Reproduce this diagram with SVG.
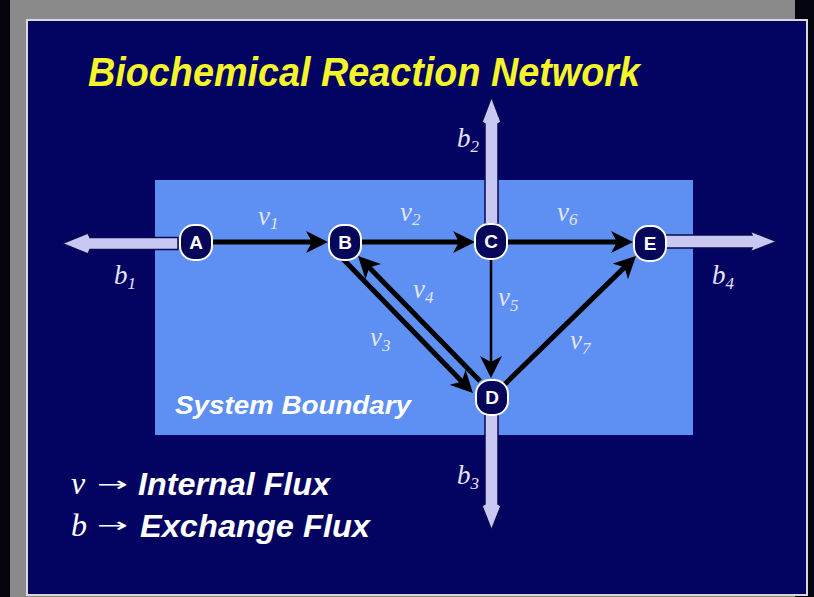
<svg xmlns="http://www.w3.org/2000/svg" width="814" height="597" viewBox="0 0 814 597">
<style>
.node rect{fill:#06065a;stroke:#ffffff;stroke-width:2}
.node text{font-family:"Liberation Sans",Arial,sans-serif;font-weight:bold;font-size:19px;fill:#ffffff;text-anchor:middle}
.edge{stroke:#000000;stroke-width:5;fill:none;marker-end:url(#ah)}
.thin{stroke-width:2.5}
.xch{fill:#c8c8f2;stroke:#0a0a50;stroke-width:1.5}
.lbl{font-family:"Liberation Serif","Times New Roman",serif;font-style:italic;font-size:27px;fill:#e4e4ff}
.sub{font-size:17px}
.bi{font-family:"Liberation Sans",Arial,sans-serif;font-weight:bold;font-style:italic}
</style>
<defs>
<marker id="ah" markerUnits="userSpaceOnUse" markerWidth="22" markerHeight="22" refX="14" refY="11" orient="auto">
<path d="M0,0 L22,11 L0,22 L6,11 Z" fill="#000000"/>
</marker>
</defs>
<rect x="0" y="0" width="814" height="597" fill="#05050f"/>
<rect x="10" y="0" width="785" height="597" fill="#8a8a8a"/>
<rect x="27" y="20" width="780" height="575" fill="#030362" stroke="#d8d8d8" stroke-width="2"/>
<text x="88" y="86" class="bi" font-size="40" fill="#f5f52a" textLength="552" lengthAdjust="spacingAndGlyphs">Biochemical Reaction Network</text>
<rect id="boundary" x="155" y="180" width="538" height="255" fill="#5e8ff2"/>
<text x="175" y="414" class="bi" font-size="25" fill="#ffffff" textLength="236" lengthAdjust="spacingAndGlyphs">System Boundary</text>
<g id="connectors">
<path class="xch" d="M178,237.5 L90,237.5 L88,233 L62,243.5 L88,254 L90,249.5 L178,249.5 Z"/>
<path class="xch" d="M665,235 L752,235 L750,231 L777,241.5 L750,252 L752,248 L665,248 Z"/>
<path class="xch" d="M485,224 L485,124 L482,122 L491.5,97 L501,122 L498,124 L498,224 Z"/>
<path class="xch" d="M485,414 L485,504 L482,506 L491.5,530 L501,506 L498,504 L498,414 Z"/>
<line class="edge" x1="213" y1="242" x2="320" y2="242"/>
<line class="edge" x1="362" y1="242" x2="467" y2="242"/>
<line class="edge" x1="508" y1="242" x2="625" y2="242"/>
<line class="edge thin" x1="491" y1="259" x2="491" y2="370"/>
<line class="edge" x1="342" y1="258" x2="467.4" y2="387.3"/>
<line class="edge" x1="480" y1="381" x2="363.6" y2="261.7"/>
<line class="edge" x1="503" y1="386" x2="630.3" y2="261.6"/>
</g>
<g id="node-A" class="node"><rect x="180" y="225" width="32" height="35" rx="14"/><text x="196" y="249">A</text></g>
<g id="node-B" class="node"><rect x="329" y="225" width="32" height="35" rx="14"/><text x="345" y="249">B</text></g>
<g id="node-C" class="node"><rect x="475" y="224" width="32" height="35" rx="14"/><text x="491" y="248">C</text></g>
<g id="node-E" class="node"><rect x="634" y="226" width="32" height="35" rx="14"/><text x="650" y="250">E</text></g>
<g id="node-D" class="node"><rect x="476" y="380" width="32" height="35" rx="14"/><text x="492" y="404">D</text></g>
<g id="labels">
<text class="lbl" x="258" y="225">v<tspan class="sub" dy="4">1</tspan></text>
<text class="lbl" x="400" y="221">v<tspan class="sub" dy="4">2</tspan></text>
<text class="lbl" x="557" y="221">v<tspan class="sub" dy="4">6</tspan></text>
<text class="lbl" x="413" y="298">v<tspan class="sub" dy="5">4</tspan></text>
<text class="lbl" x="498" y="306">v<tspan class="sub" dy="5">5</tspan></text>
<text class="lbl" x="370" y="346">v<tspan class="sub" dy="5">3</tspan></text>
<text class="lbl" x="570" y="349">v<tspan class="sub" dy="5">7</tspan></text>
<text class="lbl" x="114" y="284">b<tspan class="sub" dy="5">1</tspan></text>
<text class="lbl" x="457" y="147">b<tspan class="sub" dy="5">2</tspan></text>
<text class="lbl" x="457" y="484">b<tspan class="sub" dy="5">3</tspan></text>
<text class="lbl" x="712" y="284">b<tspan class="sub" dy="5">4</tspan></text>
</g>
<g id="legend" fill="#ffffff">
<text x="71" y="494" font-family="Liberation Serif,serif" font-style="italic" font-size="32">v</text>
<text x="97" y="491" font-family="DejaVu Sans,sans-serif" font-size="20" textLength="31" lengthAdjust="spacingAndGlyphs">→</text>
<text x="138" y="495" class="bi" font-size="31" textLength="192" lengthAdjust="spacingAndGlyphs">Internal Flux</text>
<text x="71" y="536" font-family="Liberation Serif,serif" font-style="italic" font-size="32">b</text>
<text x="97" y="532" font-family="DejaVu Sans,sans-serif" font-size="20" textLength="31" lengthAdjust="spacingAndGlyphs">→</text>
<text x="140" y="537" class="bi" font-size="31" textLength="230" lengthAdjust="spacingAndGlyphs">Exchange Flux</text>
</g>
</svg>
